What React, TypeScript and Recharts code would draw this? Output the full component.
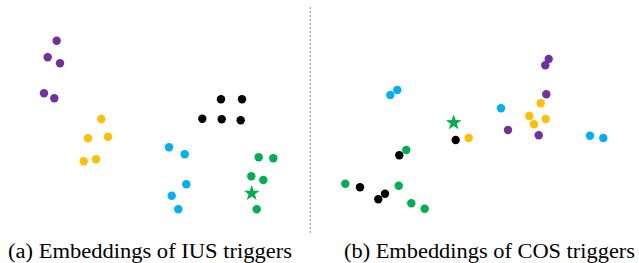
import React from 'react';
import { ScatterChart, Scatter, XAxis, YAxis, ReferenceLine } from 'recharts';

// Panel (a): embeddings of IUS triggers
const iusPurple = [
  { x: 5.67, y: 19.43 }, { x: 4.77, y: 17.77 }, { x: 6.0, y: 17.17 }, { x: 4.4, y: 14.17 }, { x: 5.43, y: 13.67 },
];
const iusYellow = [
  { x: 10.13, y: 11.6 }, { x: 8.8, y: 9.67 }, { x: 10.8, y: 9.83 }, { x: 8.37, y: 7.37 }, { x: 9.6, y: 7.57 },
];
const iusBlack = [
  { x: 22.1, y: 13.57 }, { x: 24.2, y: 13.57 }, { x: 20.23, y: 11.63 }, { x: 22.17, y: 11.57 }, { x: 24.07, y: 11.47 },
];
const iusBlue = [
  { x: 16.9, y: 8.77 }, { x: 18.47, y: 8.07 }, { x: 18.63, y: 5.07 }, { x: 17.17, y: 3.93 }, { x: 17.83, y: 2.57 },
];
const iusGreen = [
  { x: 25.87, y: 7.77 }, { x: 27.33, y: 7.67 }, { x: 25.13, y: 5.87 }, { x: 26.33, y: 5.5 }, { x: 25.67, y: 2.57 },
];
const iusStar = [{ x: 25.17, y: 4.17 }];

// Panel (b): embeddings of COS triggers
const cosGreen = [
  { x: 40.63, y: 8.5 }, { x: 34.53, y: 5.13 }, { x: 39.87, y: 4.93 }, { x: 41.13, y: 3.17 }, { x: 42.47, y: 2.63 },
];
const cosBlack = [
  { x: 45.57, y: 9.5 }, { x: 39.93, y: 7.97 }, { x: 36.0, y: 4.77 }, { x: 38.5, y: 4.13 }, { x: 37.83, y: 3.57 },
];
const cosBlue = [
  { x: 39.73, y: 14.5 }, { x: 39.03, y: 14.0 }, { x: 50.1, y: 12.67 }, { x: 59.0, y: 9.93 }, { x: 60.33, y: 9.7 },
];
const cosPurple = [
  { x: 54.87, y: 17.6 }, { x: 54.53, y: 16.97 }, { x: 54.63, y: 14.07 }, { x: 50.8, y: 10.5 }, { x: 53.87, y: 9.97 },
];
const cosYellow = [
  { x: 54.07, y: 13.17 }, { x: 52.93, y: 11.9 }, { x: 54.57, y: 11.6 }, { x: 53.4, y: 11.07 }, { x: 46.87, y: 9.7 },
];
const cosStar = [{ x: 45.37, y: 11.23 }];

const captions = ['(a) Embeddings of IUS triggers', '(b) Embeddings of COS triggers'];
const dividerX = 31.03;

const PURPLE = '#7030A0';
const YELLOW = '#FFC000';
const BLACK = '#000000';
const BLUE = '#00B0F0';
const GREEN = '#00B050';

const dot = (color: string) => (props: any) => (
  <circle cx={props.cx} cy={props.cy} r={4.2} fill={color} />
);

const star = (color: string) => (props: any) => {
  const R = 8.2;
  const r = 3.3;
  const pts: string[] = [];
  for (let i = 0; i < 10; i++) {
    const rad = i % 2 === 0 ? R : r;
    const a = -Math.PI / 2 + (i * Math.PI) / 5;
    pts.push(`${props.cx + rad * Math.cos(a)},${props.cy + rad * Math.sin(a)}`);
  }
  return <polygon points={pts.join(' ')} fill={color} />;
};

const captionFont = "'Liberation Serif', 'Times New Roman', serif";

export default function App() {
  return (
    <div style={{ position: 'absolute', left: 0, top: 0, width: 639, height: 263, background: '#fff' }}>
      <ScatterChart width={639} height={235} margin={{ top: 0, right: 0, bottom: 0, left: 0 }}>
        <XAxis type="number" dataKey="x" domain={[0, 63.9]} hide />
        <YAxis type="number" dataKey="y" domain={[0, 23.5]} hide />
        <ReferenceLine
          segment={[{ x: dividerX, y: 0.2 }, { x: dividerX, y: 22.8 }]}
          stroke="#8c8c8c"
          strokeDasharray="2 2"
          strokeWidth={1}
        />
        <Scatter data={iusPurple} shape={dot(PURPLE)} isAnimationActive={false} />
        <Scatter data={iusYellow} shape={dot(YELLOW)} isAnimationActive={false} />
        <Scatter data={iusBlack} shape={dot(BLACK)} isAnimationActive={false} />
        <Scatter data={iusBlue} shape={dot(BLUE)} isAnimationActive={false} />
        <Scatter data={iusGreen} shape={dot(GREEN)} isAnimationActive={false} />
        <Scatter data={iusStar} shape={star(GREEN)} isAnimationActive={false} />
        <Scatter data={cosGreen} shape={dot(GREEN)} isAnimationActive={false} />
        <Scatter data={cosBlack} shape={dot(BLACK)} isAnimationActive={false} />
        <Scatter data={cosBlue} shape={dot(BLUE)} isAnimationActive={false} />
        <Scatter data={cosPurple} shape={dot(PURPLE)} isAnimationActive={false} />
        <Scatter data={cosYellow} shape={dot(YELLOW)} isAnimationActive={false} />
        <Scatter data={cosStar} shape={star(GREEN)} isAnimationActive={false} />
      </ScatterChart>
      <svg width={639} height={28} style={{ position: 'absolute', left: 0, top: 235 }}>
        <text
          x={8}
          y={23}
          fontFamily={captionFont}
          fontSize={20.5}
          fill="#000"
          textLength={284}
          lengthAdjust="spacingAndGlyphs"
        >
          {captions[0]}
        </text>
        <text
          x={344}
          y={23}
          fontFamily={captionFont}
          fontSize={20.5}
          fill="#000"
          textLength={291}
          lengthAdjust="spacingAndGlyphs"
        >
          {captions[1]}
        </text>
      </svg>
    </div>
  );
}
